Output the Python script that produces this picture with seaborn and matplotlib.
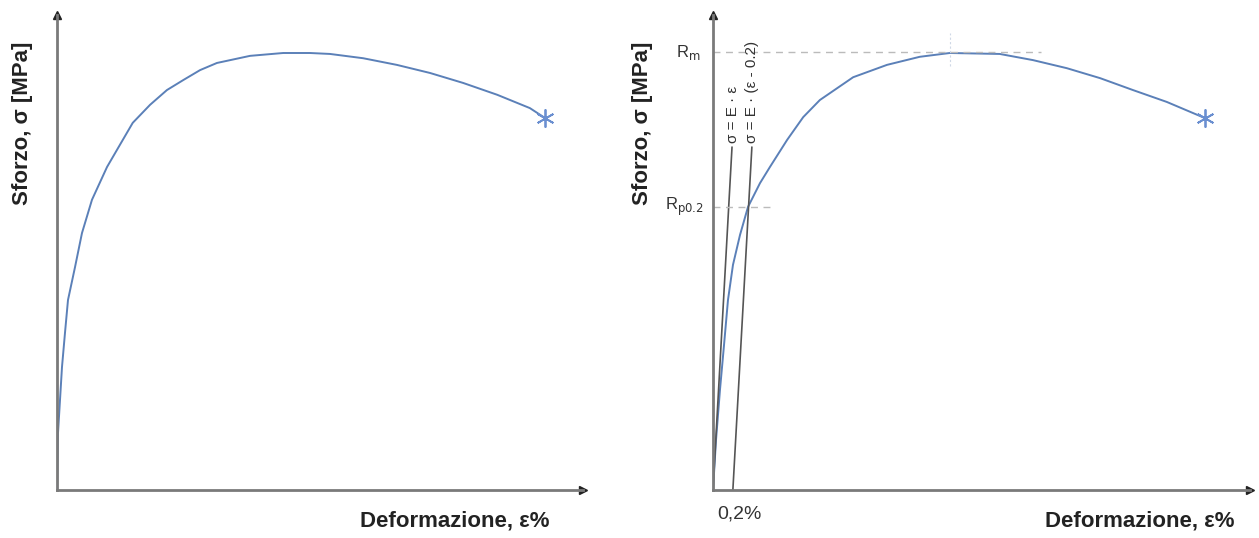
import numpy as np
import pandas as pd
import matplotlib
matplotlib.use("Agg")
import matplotlib.pyplot as plt
import seaborn as sns

# ---- data (schematic units: strain 0-100, stress 0-100) ----
left_strain = [0, 0.19, 0.95, 1.52, 2.09, 3.42, 4.75, 6.65, 9.51, 11.4, 14.4, 17.7, 20.9, 24.0,
               27.2, 30.4, 36.7, 43.0, 48.1, 51.9, 58.2, 64.6, 70.9, 77.2, 83.7, 89.9, 92.8]
left_stress = [0, 12.0, 25.9, 33.1, 40.0, 46.9, 54.1, 61.1, 68.0, 71.6, 77.3, 81.1, 84.2, 86.3,
               88.4, 89.9, 91.4, 92.0, 92.0, 91.8, 90.9, 89.5, 87.8, 85.7, 83.2, 80.4, 78.3]

right_strain = [0, 0.56, 1.30, 2.05, 2.79, 3.72, 5.03, 6.52, 8.75, 10.6, 13.8, 16.8, 19.9, 26.1,
                32.4, 38.5, 44.1, 53.4, 59.6, 65.9, 72.1, 78.2, 84.5, 91.6]
right_stress = [0, 10.5, 21.1, 30.5, 40.0, 47.4, 53.7, 59.6, 64.6, 68.0, 73.7, 78.5, 82.1, 86.9,
                89.5, 91.2, 92.0, 91.8, 90.5, 88.8, 86.7, 84.2, 81.7, 78.3]

elastic_strain = [0, 3.54]
elastic_stress = [0, 72.2]
offset_strain = [3.7, 7.24]
offset_stress = [0, 72.2]

Rm = 92.2
Rp02 = 59.6
Rm_end = 61.0
Rp_end = 10.6
peak_strain = 44.1

ylabel = "Sforzo, σ [MPa]"
xlabel = "Deformazione, ε%"

sns.set_style("white")
plt.rcParams['font.family'] = ['Liberation Sans', 'DejaVu Sans']

fig = plt.figure(figsize=(12.59, 5.38), dpi=100)
axL = fig.add_axes([57/1259, 1-490/538, 526/1259, 475/538])
axR = fig.add_axes([713/1259, 1-490/538, 537/1259, 475/538])

curve_col = "#5b80b8"
star_col = "#6a8fd0"
axis_col = "#7a7a7a"
text_col = "#333333"

def style_axes(ax):
    ax.set_xlim(0, 100)
    ax.set_ylim(0, 100)
    for s in ["top", "right"]:
        ax.spines[s].set_visible(False)
    for s in ["left", "bottom"]:
        ax.spines[s].set_color(axis_col)
        ax.spines[s].set_linewidth(2.0)
    ax.set_xticks([])
    ax.set_yticks([])
    ax.plot(1, 0, ">", color="#222222", markersize=6, transform=ax.transAxes, clip_on=False)
    ax.plot(0, 1, "^", color="#222222", markersize=6, transform=ax.transAxes, clip_on=False)
    ax.set_ylabel(ylabel, fontsize=16, fontweight="bold", color="#222222")
    ax.set_xlabel(xlabel, fontsize=16, fontweight="bold", color="#222222")

# Left panel
dfL = pd.DataFrame({"strain": left_strain, "stress": left_stress})
sns.lineplot(data=dfL, x="strain", y="stress", ax=axL, color=curve_col, linewidth=1.4, sort=False)
axL.plot(left_strain[-1], left_stress[-1], marker=(6, 2, 0), color=star_col, markersize=13, markeredgewidth=1.3)
style_axes(axL)
axL.yaxis.set_label_coords(-0.046, 0.773)
axL.xaxis.set_label_coords(0.757, -0.044)

# Right panel
dfR = pd.DataFrame({"strain": right_strain, "stress": right_stress})
sns.lineplot(data=dfR, x="strain", y="stress", ax=axR, color=curve_col, linewidth=1.4, sort=False)
axR.plot(right_strain[-1], right_stress[-1], marker=(6, 2, 0), color=star_col, markersize=13, markeredgewidth=1.3)
sns.lineplot(x=elastic_strain, y=elastic_stress, ax=axR, color="#555555", linewidth=1.2)
sns.lineplot(x=offset_strain, y=offset_stress, ax=axR, color="#555555", linewidth=1.2)
axR.plot([0, Rm_end], [Rm, Rm], ls=(0, (5, 4)), color="#bbbbbb", linewidth=1.0)
axR.plot([0, Rp_end], [Rp02, Rp02], ls=(0, (5, 4)), color="#bbbbbb", linewidth=1.0)
axR.plot([peak_strain, peak_strain], [Rm - 3, Rm + 4], ls=(0, (2, 2)), color="#cfd8e6", linewidth=0.8)
style_axes(axR)
axR.yaxis.set_label_coords(-0.112, 0.773)
axR.xaxis.set_label_coords(0.795, -0.044)

axR.text(-2.4, Rm, r"R$_\mathrm{m}$", ha="right", va="center", fontsize=12, color=text_col)
axR.text(-1.8, Rp02, r"R$_\mathrm{p0.2}$", ha="right", va="center", fontsize=12, color=text_col)
axR.text(5.0, -3.2, "0,2%", ha="center", va="top", fontsize=14, color=text_col)
axR.text(3.7, 73.0, "σ = E · ε", rotation=90, ha="center", va="bottom", fontsize=11, color=text_col)
axR.text(7.3, 73.0, "σ = E · (ε - 0.2)", rotation=90, ha="center", va="bottom", fontsize=11, color=text_col)

fig.savefig("out.png", dpi=100)
